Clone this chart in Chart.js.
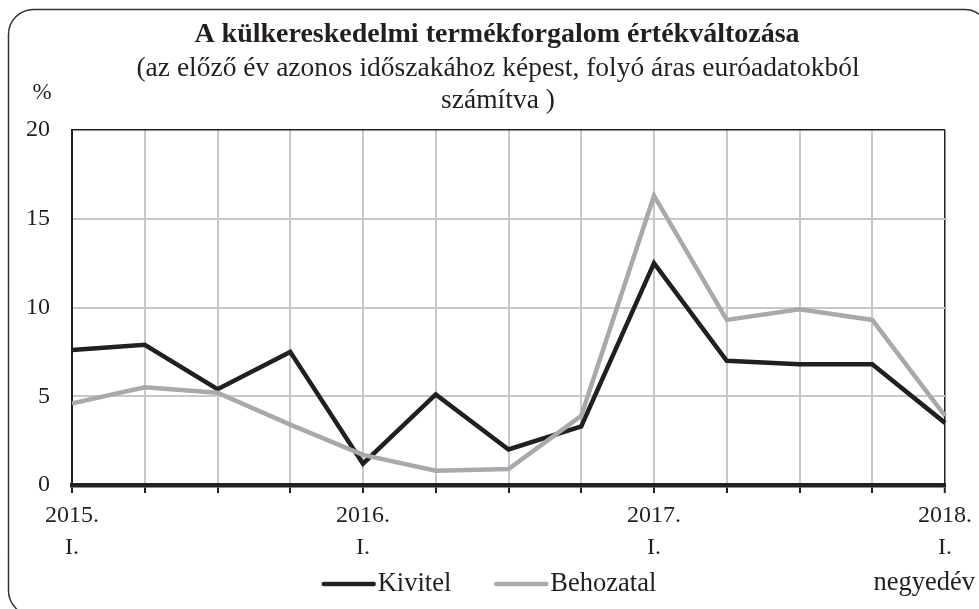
<!DOCTYPE html>
<html><head><meta charset="utf-8">
<script src="https://cdn.jsdelivr.net/npm/chart.js@4"></script>
<style>html,body{margin:0;padding:0;background:#fff}#wrap{width:979px;height:609px}</style>
</head><body><div id="wrap"><canvas id="c" width="979" height="609"></canvas></div>
<script>
const categories = ['2015. I.','2015. II.','2015. III.','2015. IV.','2016. I.','2016. II.','2016. III.','2016. IV.','2017. I.','2017. II.','2017. III.','2017. IV.','2018. I.'];
const tickLabels = [['2015.','I.'],'','','',['2016.','I.'],'','','',['2017.','I.'],'','','',['2018.','I.']];
const kivitel   = [7.6, 7.9, 5.4, 7.5, 1.2, 5.1, 2.0, 3.3, 12.5, 7.0, 6.8, 6.8, 3.5];
const behozatal = [4.6, 5.5, 5.2, 3.4, 1.7, 0.8, 0.9, 3.9, 16.3, 9.3, 9.9, 9.3, 3.9];
const yTicks = [0, 5, 10, 15, 20];
const titleText = 'A külkereskedelmi termékforgalom értékváltozása';
const subtitleLines = ['(az előző év azonos időszakához képest, folyó áras euróadatokból', 'számítva )'];
const yUnit = '%';
const xUnit = 'negyedév';

const FONT = '"Liberation Serif", "Times New Roman", serif';
const INK = '#231f20';
const GRID = '#c7c8ca';

const decor = {
  id: 'decor',
  beforeDraw(chart) {
    const c = chart.ctx;
    c.save();
    c.strokeStyle = '#333';
    c.lineWidth = 1.5;
    c.beginPath();
    c.roundRect(8.5, 9.5, 981, 606, 25);
    c.stroke();
    c.restore();
  },
  afterDraw(chart) {
    const c = chart.ctx;
    c.save();
    c.fillStyle = INK;
    c.textAlign = 'center';
    c.textBaseline = 'middle';
    c.font = 'bold 28px ' + FONT;
    c.fillText(titleText, 497, 35);
    c.font = '27.5px ' + FONT;
    subtitleLines.forEach((t, i) => c.fillText(t, 498, 69 + i * 32));
    c.font = '23px ' + FONT;
    c.fillText(yUnit, 42, 93);
    c.textAlign = 'right';
    c.font = '26.5px ' + FONT;
    c.fillText(xUnit, 975, 583);
    // legend
    c.font = '26.5px ' + FONT;
    const lineLen = 54, gap = 2, spacing = 43;
    const items = chart.data.datasets.map(d => ({label: d.label, color: d.borderColor, w: d.borderWidth, tw: c.measureText(d.label).width}));
    let total = 0;
    items.forEach((it, i) => { total += lineLen + gap + it.tw + (i ? spacing : 0); });
    let x = 489 - total / 2;
    const y = 584;
    items.forEach((it, i) => {
      if (i) x += spacing;
      c.strokeStyle = it.color;
      c.lineWidth = it.w;
      c.lineCap = 'round';
      c.beginPath();
      c.moveTo(x + 2, y);
      c.lineTo(x + lineLen - 2, y);
      c.stroke();
      x += lineLen + gap;
      c.textAlign = 'left';
      c.fillStyle = INK;
      c.fillText(it.label, x, y);
      x += it.tw;
    });
    c.restore();
  }
};

new Chart(document.getElementById('c'), {
  type: 'line',
  data: {
    labels: categories,
    datasets: [
      {label: 'Kivitel', data: kivitel, borderColor: INK, backgroundColor: INK, borderWidth: 4.5, pointRadius: 0, tension: 0, order: 1},
      {label: 'Behozatal', data: behozatal, borderColor: '#a7a9ac', backgroundColor: '#a7a9ac', borderWidth: 4.5, pointRadius: 0, tension: 0, order: 0}
    ]
  },
  options: {
    responsive: false,
    animation: false,
    devicePixelRatio: 1,
    layout: {padding: {top: 130, left: 20, right: 33, bottom: 45}},
    plugins: {legend: {display: false}, tooltip: {enabled: false}},
    scales: {
      x: {
        grid: {
          color: ctx => ctx.index === categories.length - 1 ? INK : GRID,
          lineWidth: ctx => ctx.index === categories.length - 1 ? 1.5 : 2,
          tickColor: INK, tickLength: 8, tickWidth: 2
        },
        border: {color: INK, width: 4.5},
        ticks: {
          autoSkip: false, maxRotation: 0, minRotation: 0, padding: 7, color: INK,
          font: {family: FONT, size: 24, lineHeight: '32px'},
          callback: (v, i) => tickLabels[i]
        },
        afterFit: s => { s.height = 79; }
      },
      y: {
        min: 0, max: 20,
        afterBuildTicks: s => { s.ticks = yTicks.map(v => ({value: v})); },
        grid: {
          color: ctx => (ctx.tick && ctx.tick.value === 20) ? INK : GRID,
          lineWidth: ctx => (ctx.tick && ctx.tick.value === 20) ? 1.5 : 2,
          drawTicks: false
        },
        border: {color: INK, width: 2},
        ticks: {padding: 22, color: INK, font: {family: FONT, size: 24}},
        afterFit: s => { s.width = 52; }
      }
    }
  },
  plugins: [decor]
});
</script>
</body></html>
